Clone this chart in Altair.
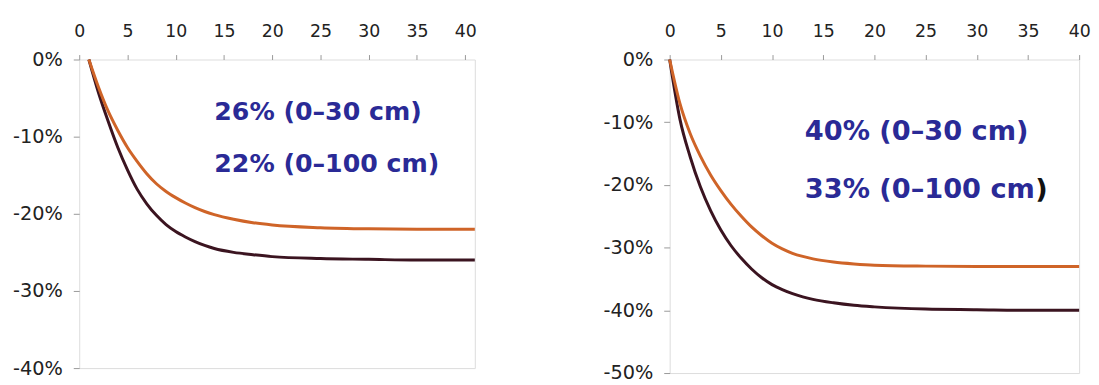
import altair as alt
import pandas as pd

# ---- left panel data (years vs. % change in soil C) ----
years_left = [1, 2, 3, 4, 5, 6, 7, 8, 9, 10, 11, 12, 13, 14, 16, 18, 20, 25, 30, 35, 41]
left_0_30 = [0, -4.3, -8.0, -11.4, -14.3, -16.8, -18.7, -20.2, -21.4, -22.3,
             -23.0, -23.6, -24.1, -24.5, -25.0, -25.3, -25.55, -25.8, -25.9, -26.0, -26.0]
left_0_100 = [0, -3.6, -6.7, -9.2, -11.4, -13.2, -14.8, -16.1, -17.1, -17.9,
              -18.6, -19.2, -19.7, -20.1, -20.7, -21.15, -21.45, -21.8, -21.95, -22.0, -22.0]

# ---- right panel data ----
years_right = [0, 1, 2, 3, 4, 5, 6, 7, 8, 9, 10, 11, 12, 13, 14, 16, 18, 20, 25, 30, 35, 40]
right_0_30 = [0, -9.5, -15.5, -20.3, -24.1, -27.2, -29.7, -31.7, -33.4, -34.8,
              -35.9, -36.7, -37.35, -37.85, -38.25, -38.8, -39.2, -39.45, -39.8, -39.9, -40.0, -40.0]
right_0_100 = [0, -7.0, -11.8, -15.4, -18.4, -20.9, -23.1, -25.0, -26.7, -28.1,
               -29.3, -30.2, -30.9, -31.4, -31.8, -32.3, -32.6, -32.8, -32.95, -33.0, -33.0, -33.0]

series_names = ["0–30 cm", "0–100 cm"]

left_labels = ["26% (0–30 cm)", "22% (0–100 cm)"]
left_label_year = [14.0, 14.0]
left_label_change = [-6.8, -13.5]

right_labels = ["40% (0–30 cm)", "33% (0–100 cm"]
right_label_year = [13.2, 13.2]
right_label_change = [-11.6, -20.8]
right_close = [")"]

x_ticks = [0, 5, 10, 15, 20, 25, 30, 35, 40]
left_y_ticks = [0, -10, -20, -30, -40]
right_y_ticks = [0, -10, -20, -30, -40, -50]

LINE_COLORS = ["#3b1420", "#cf6428"]
BLUE = "#2a2a96"


def make_df(years, a, b):
    rows = []
    for yr, v in zip(years, a):
        rows.append({"year": yr, "change": v, "depth": series_names[0]})
    for yr, v in zip(years, b):
        rows.append({"year": yr, "change": v, "depth": series_names[1]})
    return pd.DataFrame(rows)


def panel(df, xmax, ymin, yticks, w, h, ann, fs, extra=None):
    xenc = alt.X(
        "year:Q",
        scale=alt.Scale(domain=[0, xmax], nice=False, zero=False),
        axis=alt.Axis(orient="top", values=x_ticks, title=None, grid=False,
                      domain=False, tickSize=5, tickColor="#999999",
                      labelPadding=14, labelFontSize=17.5, labelColor="#222222",
                      labelFont="DejaVu Sans", labelFlush=False),
    )
    yenc = alt.Y(
        "change:Q",
        scale=alt.Scale(domain=[ymin, 0], nice=False),
        axis=alt.Axis(values=yticks, title=None, grid=False, domain=False,
                      labelExpr="datum.value + '%'", tickSize=6,
                      tickColor="#999999", labelPadding=11, labelFontSize=19.5,
                      labelColor="#222222", labelFont="DejaVu Sans"),
    )
    lines = alt.Chart(df).mark_line(strokeWidth=3, interpolate="monotone").encode(
        x=xenc, y=yenc,
        color=alt.Color("depth:N", scale=alt.Scale(domain=series_names, range=LINE_COLORS),
                        legend=None),
    )
    text = alt.Chart(ann).mark_text(
        align="left", baseline="middle", font="DejaVu Sans", fontWeight="bold",
        fontSize=fs, color=BLUE,
    ).encode(x=xenc, y=yenc, text="label:N")
    layers = [lines, text]
    if extra is not None:
        layers.append(extra(xenc, yenc))
    return alt.layer(*layers).properties(width=w, height=h)


left_df = make_df(years_left, left_0_30, left_0_100)
right_df = make_df(years_right, right_0_30, right_0_100)

left_ann = pd.DataFrame({"year": left_label_year, "change": left_label_change,
                         "label": left_labels})
right_ann = pd.DataFrame({"year": right_label_year, "change": right_label_change,
                          "label": right_labels})
close_df = pd.DataFrame({"year": [right_label_year[1]], "change": [right_label_change[1]],
                         "label": right_close})


def close_paren(xenc, yenc):
    return alt.Chart(close_df).mark_text(
        align="left", baseline="middle", font="DejaVu Sans", fontWeight="bold",
        fontSize=27.5, color="#111111", dx=233,
    ).encode(x=xenc, y=yenc, text="label:N")


left = panel(left_df, 41, -40, left_y_ticks, 400, 312, left_ann, 25.5)
right = panel(right_df, 40, -50, right_y_ticks, 414, 317, right_ann, 27.5, close_paren)

chart = alt.hconcat(left, right, spacing=122).properties(
    padding={"left": 4, "top": 12, "right": 0, "bottom": 0}
).configure_view(stroke="#a8a8a8", strokeWidth=1.2).configure(background="white")

chart.save("out.html", embed_options={"renderer": "svg", "actions": False})
